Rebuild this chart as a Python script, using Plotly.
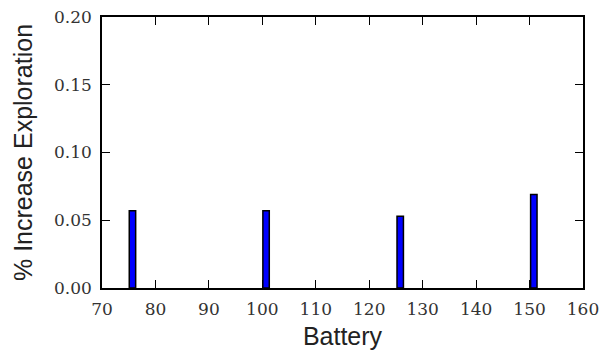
import plotly.graph_objects as go

battery = [75.7, 100.7, 125.8, 150.8]
increase = [0.057, 0.057, 0.053, 0.069]
x_ticks = [70, 80, 90, 100, 110, 120, 130, 140, 150, 160]
y_ticks = [0.00, 0.05, 0.10, 0.15, 0.20]

fig = go.Figure()
fig.add_trace(go.Bar(
    x=battery, y=increase, width=1.2,
    marker=dict(color="#0000ff", line=dict(color="black", width=1.5)),
))

axis_common = dict(
    showline=True, linecolor="black", linewidth=1.5, mirror="ticks",
    ticks="inside", ticklen=8, tickwidth=1, tickcolor="black",
    showgrid=False, zeroline=False, automargin=False,
    tickfont=dict(family="DejaVu Serif", size=17, color="#333"),
    ticklabelstandoff=5, ticklabeloverflow="allow",
)
fig.update_xaxes(range=[70, 160], tickvals=x_ticks, **axis_common,
                 title=dict(text="Battery", font=dict(family="Liberation Sans", size=25, color="#222"), standoff=9))
fig.update_yaxes(range=[0, 0.2], tickvals=y_ticks, tickformat=".2f", **axis_common,
                 title=dict(text="% Increase Exploration", font=dict(family="Liberation Sans", size=25, color="#222"), standoff=14))
fig.update_layout(
    width=612, height=358,
    margin=dict(l=94, r=37, t=9, b=78),
    plot_bgcolor="white", paper_bgcolor="white",
    showlegend=False,
)
fig.write_html("out.html")
